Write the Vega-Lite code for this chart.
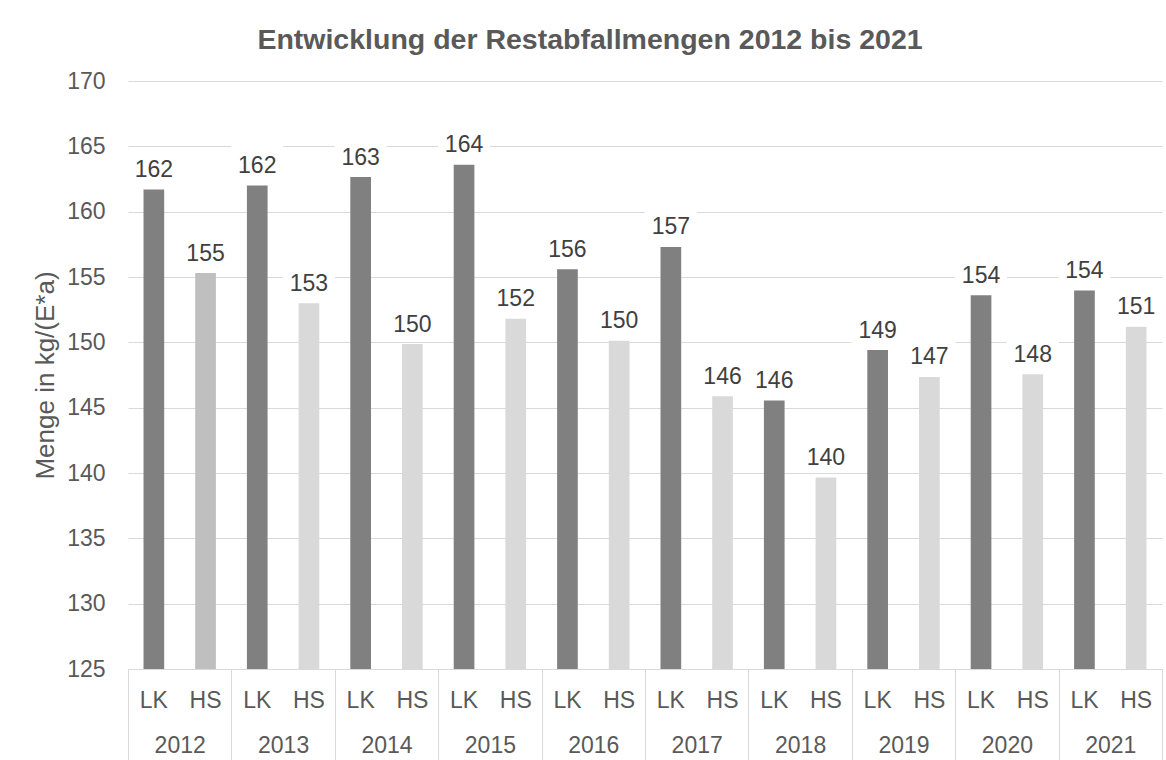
{
  "$schema": "https://vega.github.io/schema/vega-lite/v6.json",
  "width": 1034,
  "height": 588,
  "autosize": {"type": "none"},
  "padding": {"left": 128, "top": 81, "right": 4, "bottom": 91},
  "background": "white",
  "config": {
    "font": "Liberation Sans",
    "view": {"stroke": null}
  },
  "title": {
    "text": "Entwicklung der Restabfallmengen 2012 bis 2021",
    "fontSize": 28.5,
    "fontWeight": "bold",
    "color": "#595959",
    "font": "Liberation Sans",
    "anchor": "middle",
    "dx": -55,
    "offset": 16
  },
  "data": {
    "values": [
      {"year": "2012", "type": "LK", "key": "2012 LK", "value": 161.7},
      {"year": "2012", "type": "HS", "key": "2012 HS", "value": 155.3},
      {"year": "2013", "type": "LK", "key": "2013 LK", "value": 162.0},
      {"year": "2013", "type": "HS", "key": "2013 HS", "value": 153.0},
      {"year": "2014", "type": "LK", "key": "2014 LK", "value": 162.65},
      {"year": "2014", "type": "HS", "key": "2014 HS", "value": 149.87},
      {"year": "2015", "type": "LK", "key": "2015 LK", "value": 163.6},
      {"year": "2015", "type": "HS", "key": "2015 HS", "value": 151.8},
      {"year": "2016", "type": "LK", "key": "2016 LK", "value": 155.6},
      {"year": "2016", "type": "HS", "key": "2016 HS", "value": 150.13},
      {"year": "2017", "type": "LK", "key": "2017 LK", "value": 157.3},
      {"year": "2017", "type": "HS", "key": "2017 HS", "value": 145.87},
      {"year": "2018", "type": "LK", "key": "2018 LK", "value": 145.55},
      {"year": "2018", "type": "HS", "key": "2018 HS", "value": 139.65},
      {"year": "2019", "type": "LK", "key": "2019 LK", "value": 149.41},
      {"year": "2019", "type": "HS", "key": "2019 HS", "value": 147.35},
      {"year": "2020", "type": "LK", "key": "2020 LK", "value": 153.6},
      {"year": "2020", "type": "HS", "key": "2020 HS", "value": 147.55},
      {"year": "2021", "type": "LK", "key": "2021 LK", "value": 153.96},
      {"year": "2021", "type": "HS", "key": "2021 HS", "value": 151.2}
    ]
  },
  "resolve": {"scale": {"x": "independent"}, "axis": {"x": "independent"}},
  "layer": [
    {
      "mark": {"type": "point", "opacity": 0},
      "encoding": {
        "x": {
          "field": "year",
          "type": "nominal",
          "sort": null,
          "scale": {"paddingInner": 0, "paddingOuter": 0},
          "axis": {
            "orient": "bottom",
            "title": null,
            "domain": false,
            "grid": false,
            "ticks": true,
            "tickBand": "extent",
            "tickSize": 100,
            "tickColor": "#d9d9d9",
            "tickWidth": 1,
            "labelAngle": 0,
            "labelFontSize": 23,
            "labelColor": "#595959",
            "labelBaseline": "middle",
            "labelPadding": -23.5
          }
        }
      }
    },
    {
      "encoding": {
        "x": {
          "field": "key",
          "type": "nominal",
          "sort": null,
          "scale": {"paddingInner": 0.6, "paddingOuter": 0.3},
          "axis": {
            "orient": "bottom",
            "title": null,
            "domain": true,
            "domainColor": "#d9d9d9",
            "domainWidth": 1,
            "grid": false,
            "ticks": false,
            "tickSize": 0,
            "labelAngle": 0,
            "labelExpr": "split(datum.value, ' ')[1]",
            "labelFontSize": 23,
            "labelColor": "#595959",
            "labelBaseline": "middle",
            "labelPadding": 31
          }
        },
        "y": {
          "field": "value",
          "type": "quantitative",
          "scale": {"domain": [125, 170], "nice": false, "zero": false},
          "axis": {
            "title": "Menge in kg/(E*a)",
            "titleFontSize": 26,
            "titleFontWeight": "normal",
            "titleColor": "#595959",
            "titlePadding": 8,
            "values": [125, 130, 135, 140, 145, 150, 155, 160, 165, 170],
            "domain": false,
            "ticks": false,
            "tickSize": 0,
            "grid": true,
            "gridColor": "#d9d9d9",
            "gridWidth": 1,
            "labelFontSize": 23,
            "labelColor": "#595959",
            "labelPadding": 23
          }
        }
      },
      "layer": [
        {
          "mark": {"type": "bar", "color": "white", "width": 52, "yOffset": -40, "y2Offset": -5},
          "encoding": {
            "y2": {"field": "value"}
          }
        },
        {
          "mark": {"type": "bar"},
          "encoding": {
            "y2": {"datum": 125},
            "color": {
              "condition": [
                {"test": "datum.type === 'LK'", "value": "#808080"},
                {"test": "datum.year === '2012'", "value": "#bfbfbf"}
              ],
              "value": "#d9d9d9"
            }
          }
        },
        {
          "mark": {"type": "text", "fontSize": 23, "color": "#404040", "baseline": "alphabetic", "dy": -12.5},
          "encoding": {
            "text": {"field": "value", "type": "quantitative", "format": ".0f"}
          }
        }
      ]
    }
  ]
}
